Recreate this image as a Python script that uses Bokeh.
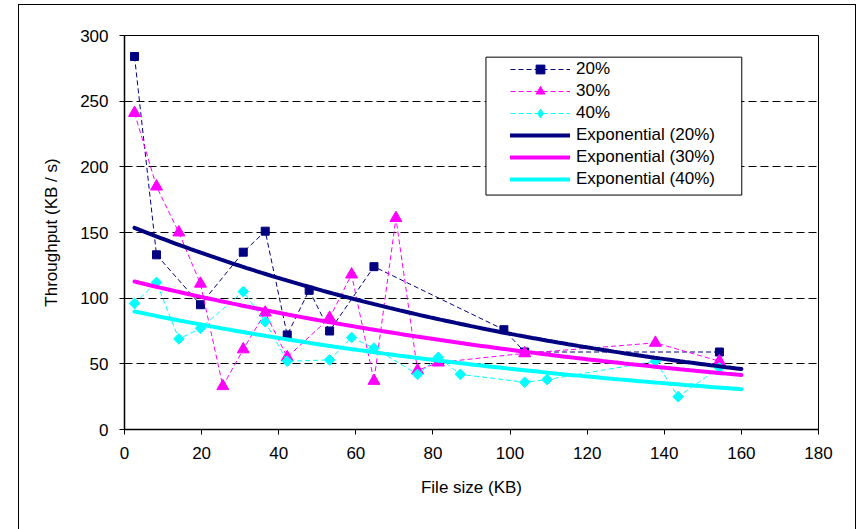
import numpy as np
from bokeh.plotting import figure
from bokeh.models import Range1d, Legend, LegendItem, FixedTicker
from bokeh.embed import file_html
from bokeh.resources import INLINE

# ---- data ----
size_20 = [2.6, 8.3, 19.7, 30.8, 36.5, 42.2, 47.9, 53.2, 64.7, 98.4, 103.8, 154.3]
thr_20 = [284, 133, 95, 135, 151, 72, 106, 75, 124, 76, 59, 59]

size_30 = [2.6, 8.3, 14.1, 19.7, 25.5, 30.8, 36.5, 42.2, 53.2, 58.9, 64.7, 70.4, 76.0, 81.4, 103.8, 137.7, 154.3]
thr_30 = [241, 185, 150, 111, 33, 61, 89, 55, 85, 118, 37, 161, 45, 51, 58, 66, 52]

size_40 = [2.6, 8.3, 14.1, 19.7, 30.8, 36.5, 42.2, 53.2, 58.9, 64.7, 76.0, 81.4, 87.1, 103.8, 109.6, 137.7, 143.6, 154.3]
thr_40 = [96, 112, 69, 77, 105, 82, 52, 53, 70, 62, 42, 55, 42, 36, 38, 52, 25, 47]

series_names = ["20%", "30%", "40%"]
trend_names = ["Exponential (20%)", "Exponential (30%)", "Exponential (40%)"]
trend_end = 160.0
x_ticks = [0, 20, 40, 60, 80, 100, 120, 140, 160, 180]
y_ticks = [0, 50, 100, 150, 200, 250, 300]

# legend box extent in data units (layout, not data)
legend_box = dict(left=93.75, right=160.1, bottom=178.5, top=283.5)

NAVY = "#000080"
MAGENTA = "#FF00FF"
CYAN = "#00FFFF"
FONT = "Liberation Sans"
FS = "17px"

p = figure(width=838, height=532, output_backend="svg", toolbar_location=None,
           x_range=Range1d(0, 180), y_range=Range1d(0, 300),
           min_border_left=105, min_border_right=39, min_border_top=30, min_border_bottom=108,
           styles={"position": "absolute", "left": "18px", "top": "4px",
                   "border": "1px solid black"})

p.background_fill_color = "white"
p.border_fill_color = "white"
p.outline_line_color = "black"
p.outline_line_width = 1

p.xgrid.visible = False
p.ygrid.grid_line_color = "black"
p.ygrid.grid_line_dash = "8 4"
p.ygrid.grid_line_width = 1
p.ygrid.ticker = FixedTicker(ticks=y_ticks)

for ax, ticks in ((p.xaxis[0], x_ticks), (p.yaxis[0], y_ticks)):
    ax.ticker = FixedTicker(ticks=ticks)
    ax.minor_tick_line_color = None
    ax.major_tick_in = 0
    ax.major_tick_out = 5
    ax.major_tick_line_color = "black"
    ax.axis_line_color = "black"
    ax.axis_line_width = 1.5
    ax.major_label_text_font = FONT
    ax.major_label_text_font_size = FS
    ax.major_label_text_color = "black"
    ax.axis_label_text_font = FONT
    ax.axis_label_text_font_size = FS
    ax.axis_label_text_font_style = "normal"
    ax.axis_label_text_color = "black"

p.xaxis.axis_label = "File size (KB)"
p.yaxis.axis_label = "Throughput (KB / s)"
p.xaxis.major_label_standoff = 12
p.xaxis.axis_label_standoff = 16
p.yaxis.major_label_standoff = 11
p.yaxis.axis_label_standoff = 16

# legend frame (white box hiding the grid behind the legend)
p.quad(left=[legend_box["left"]], right=[legend_box["right"]],
       bottom=[legend_box["bottom"]], top=[legend_box["top"]],
       fill_color="white", line_color="black", line_width=1)

# ---- data series ----
items = []
data = [(size_20, thr_20, NAVY, "square", 8, 0.0, "square"),
        (size_30, thr_30, MAGENTA, "triangle", 12, 0.0, "triangle"),
        (size_40, thr_40, CYAN, "square", 7.5, np.pi / 4, "diamond")]
for (xs, ys, col, mk, sz, ang, leg_mk), name in zip(data, series_names):
    lr = p.line(xs, ys, line_color=col, line_width=1, line_dash="5 3")
    sr = p.scatter(xs, ys, marker=mk, size=sz, angle=ang, fill_color=col, line_color=col)
    if leg_mk == mk:
        items.append(LegendItem(label=name, renderers=[lr, sr]))
    else:
        # legend-only glyph (diamond shape as in the reference legend)
        lg = p.scatter(xs, ys, marker=leg_mk, size=sz, fill_color=col, line_color=col,
                       visible=False)
        items.append(LegendItem(label=name, renderers=[lr, lg]))

for (xs, ys, col, mk, sz, ang, leg_mk), name in zip(data, trend_names):
    b, lna = np.polyfit(np.array(xs, dtype=float), np.log(np.array(ys, dtype=float)), 1)
    tx = np.linspace(min(xs), trend_end, 120)
    ty = np.exp(lna) * np.exp(b * tx)
    tr = p.line(tx, ty, line_color=col, line_width=4, line_cap="round")
    items.append(LegendItem(label=name, renderers=[tr]))

legend = Legend(items=items, location=(386, 239), orientation="vertical",
                padding=0, margin=0, spacing=0,
                glyph_width=60, glyph_height=22, label_height=22, label_standoff=6,
                label_text_font=FONT, label_text_font_size=FS, label_text_color="black",
                border_line_alpha=0, background_fill_alpha=0,
                inactive_fill_alpha=0)
p.add_layout(legend)

open("out.html", "w").write(file_html(p, INLINE))
